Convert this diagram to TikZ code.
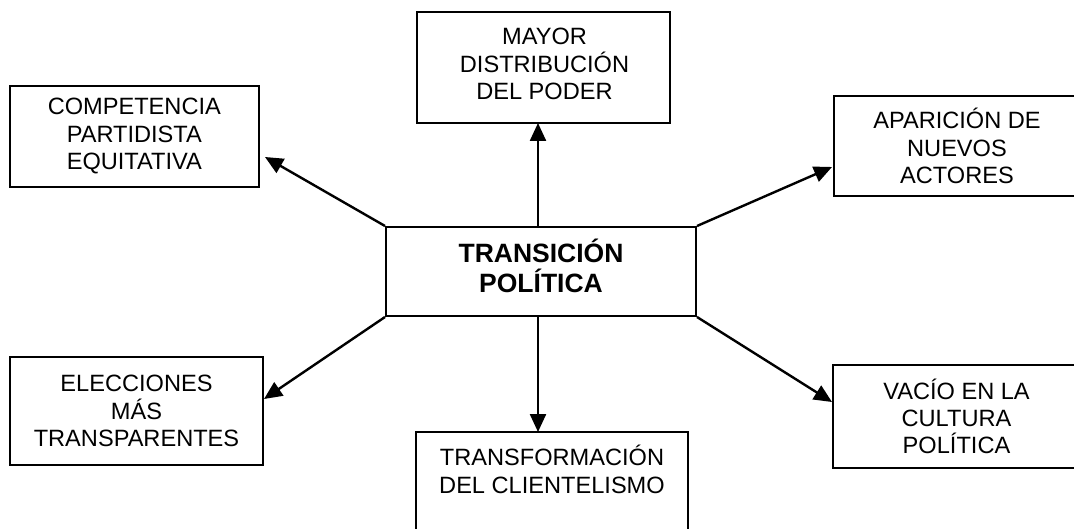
\documentclass[tikz,border=0pt]{standalone}
\usepackage{fontspec}
\setmainfont{Liberation Sans}
\usetikzlibrary{arrows.meta}
\begin{document}
\begin{tikzpicture}[x=1pt,y=-1pt,
  box/.style={draw, line width=2pt, inner sep=0pt, align=center,
    font=\fontsize{23.6}{27.4}\selectfont},
  txt/.style={inner sep=0pt, align=center, font=\fontsize{23.6}{27.4}\selectfont},
  bigtxt/.style={inner sep=0pt, align=center, font=\fontsize{26.5}{29.4}\selectfont\bfseries},
  arr/.style={line width=2.4pt, -{Triangle[length=18pt,width=16pt]}}]
\useasboundingbox (0,0) rectangle (1074,529);
\clip (0,0) rectangle (1074,529);
% centre
\node[box, minimum width=310pt, minimum height=89pt] (tp) at (541,271.5) {};
\node[bigtxt] (tptxt) at (541,266) {TRANSICIÓN\\POLÍTICA};
% outer boxes
\node[box, minimum width=248.7pt, minimum height=101pt] (comp) at (134.3,136.2) {COMPETENCIA\\PARTIDISTA\\EQUITATIVA};
\node[box, minimum width=253pt, minimum height=111.3pt] (mayor) at (543.5,67.3) {};
\node[txt] (mayortxt) at (544.5,64) {MAYOR\\DISTRIBUCIÓN\\DEL PODER};
\node[box, minimum width=246pt, minimum height=100pt] (apar) at (957,146) {APARICIÓN DE\\NUEVOS\\ACTORES};
\node[box, minimum width=253pt, minimum height=108pt] (elec) at (136.5,411) {ELECCIONES\\MÁS\\TRANSPARENTES};
\node[box, minimum width=247pt, minimum height=102.7pt] (vacio) at (956.5,416.3) {VACÍO EN LA\\CULTURA\\POLÍTICA};
\node[box, minimum width=272pt, minimum height=130pt] (trf) at (552,497) {};
\node[txt] (trftxt) at (552,469.5) {TRANSFORMACIÓN\\DEL CLIENTELISMO};
% arrow ends
\coordinate (t1) at (265,157);
\coordinate (t2) at (538,123);
\coordinate (t3) at (832,167);
\coordinate (t4) at (264,399);
\coordinate (t5) at (538,432);
\coordinate (t6) at (832,402);
\coordinate (s2) at (538,227);
\coordinate (s5) at (538,316);
\draw[arr] (tp.north west) -- (t1);
\draw[arr] (s2) -- (t2);
\draw[arr] (tp.north east) -- (t3);
\draw[arr] (tp.south west) -- (t4);
\draw[arr] (s5) -- (t5);
\draw[arr] (tp.south east) -- (t6);
\end{tikzpicture}
\end{document}
